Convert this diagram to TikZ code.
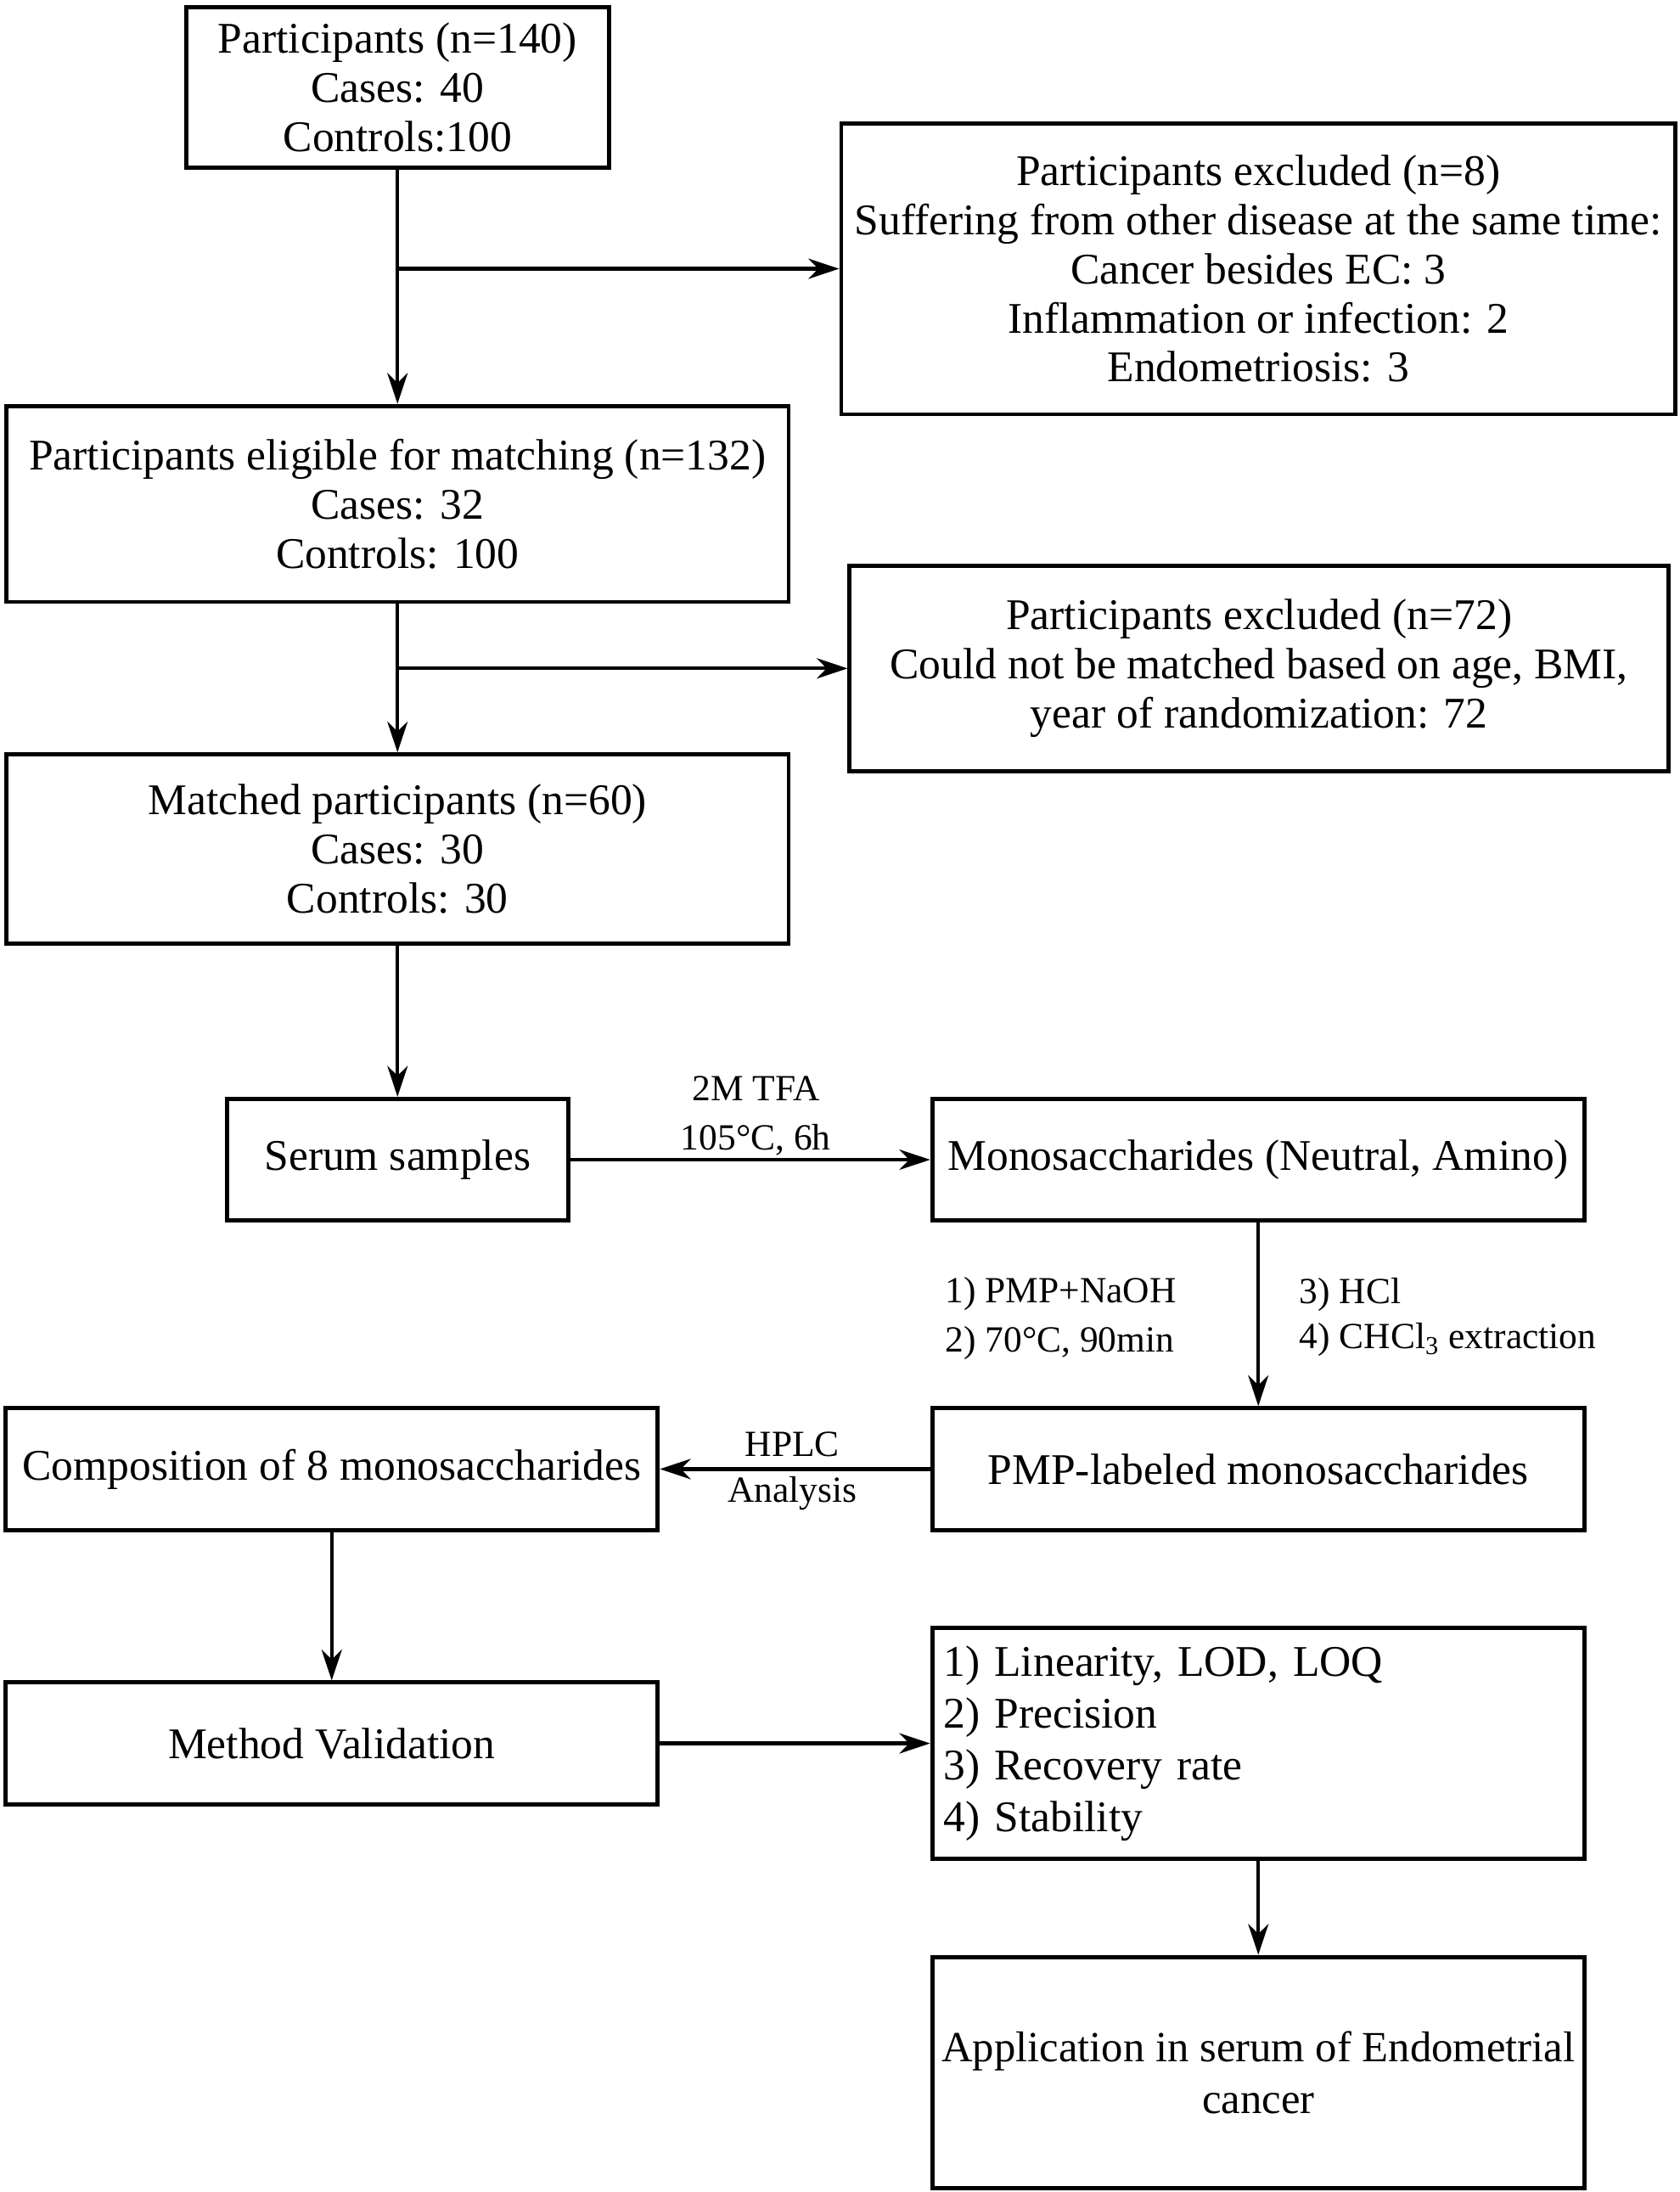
\documentclass[tikz,border=0pt]{standalone}
\usepackage{fontspec}
\setmainfont{Liberation Serif}
\usetikzlibrary{arrows.meta,positioning,calc}

\begin{document}
\begin{tikzpicture}[x=0.02cm,y=-0.02cm,>={Stealth[length=4.4mm,width=2.9mm,inset=1.4mm]},
    box/.style={draw,line width=1.7pt,rectangle,inner sep=0pt,align=center,font=\fontsize{17.8}{20}\selectfont},
    flow/.style={draw,line width=1.5pt,->},
    note/.style={inner sep=0pt,font=\fontsize{15}{20}\selectfont}]

        \useasboundingbox (0,0) rectangle (1200,1566);

        % recruitment
        \node[box,minimum width=6.04cm,minimum height=2.3cm] (start) at (284,62.5){Participants (n=140)\\Cases: 40\\Controls:100};
        \node[box,minimum width=11.92cm,minimum height=4.16cm] (excla) at (899,192){Participants excluded (n=8)\\Suffering from other disease at the same time:\\Cancer besides EC: 3\\Inflammation or infection: 2\\Endometriosis: 3};
        \node[box,minimum width=11.18cm,minimum height=2.8cm] (elig) at (284,360){Participants eligible for matching (n=132)\\Cases: 32\\Controls: 100};
        \node[box,minimum width=11.7cm,minimum height=2.94cm] (exclb) at (899.5,477.5){Participants excluded (n=72)\\Could not be matched based on age, BMI,\\year of randomization: 72};
        \node[box,minimum width=11.18cm,minimum height=2.7cm] (match) at (284,606.5){Matched participants (n=60)\\Cases: 30\\Controls: 30};

        % sample treatment
        \node[box,minimum width=4.88cm,minimum height=1.74cm] (serum) at (284,828.5){Serum samples};
        \node[box,minimum width=9.32cm,minimum height=1.74cm] (mono) at (899,828.5){Monosaccharides (Neutral, Amino)};
        \node[box,minimum width=9.32cm,minimum height=1.74cm] (pmp) at (899,1049.5){PMP-labeled monosaccharides};
        \node[box,minimum width=9.32cm,minimum height=1.74cm] (comp) at (237,1049.5){Composition of 8 monosaccharides};
        \node[box,minimum width=9.32cm,minimum height=1.74cm] (valid) at (237,1245.5){Method Validation};
        \node[box,minimum width=9.32cm,minimum height=3.3cm,text width=9cm,align=left,font=\fontsize{17.8}{21}\selectfont] (items) at (899,1245.5){1) Linearity, LOD, LOQ\\2) Precision\\3) Recovery rate\\4) Stability};
        \node[box,minimum width=9.32cm,minimum height=3.3cm,font=\fontsize{17.5}{21}\selectfont] (apply) at (899,1480.5){Application in serum of Endometrial\\cancer};

        % step labels
        \node[note,align=center] (tfa) at (540,797){2M TFA\\105°C, 6h};
        \node[note,align=left,anchor=west] (label) at (675,942){1) PMP+NaOH\\2) 70°C, 90min};
        \node[note,align=left,anchor=west,font=\fontsize{15}{18.5}\selectfont] (extr) at (928,941){3) HCl\\4) CHCl\textsubscript{3} extraction};
        \node[note,align=center,font=\fontsize{15}{18.5}\selectfont] (hplc) at (566,1051){HPLC\\Analysis};

        \path[flow] (start) -- (elig);
        \path[flow] (start.south |- excla.west) -- (excla.west);
        \path[flow] (elig) -- (match);
        \path[flow] (elig.south |- exclb.west) -- (exclb.west);
        \path[flow] (match) -- (serum);
        \path[flow] (serum) -- (mono);
        \path[flow] (mono) -- (pmp);
        \path[flow] (pmp) -- (comp);
        \path[flow] (comp) -- (valid);
        \path[flow] (valid) -- (items);
        \path[flow] (items) -- (apply);
      \end{tikzpicture}
\end{document}
